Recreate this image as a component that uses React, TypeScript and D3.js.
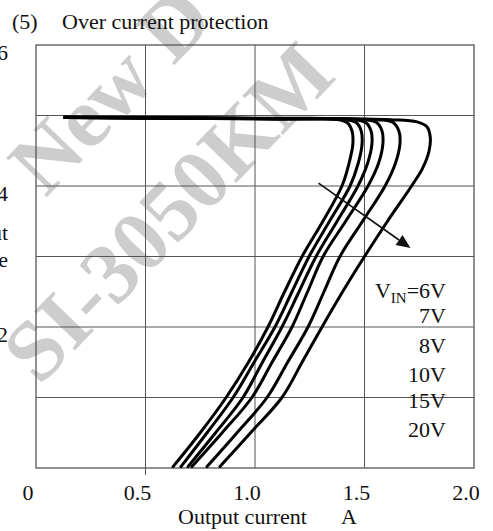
import * as d3 from "d3";
import React from "react";

// axis ticks
const currentTicks = [0, 0.5, 1.0, 1.5, 2.0];
const currentTickLabels = ["0", "0.5", "1.0", "1.5", "2.0"];
const voltageGrid = [1, 2, 3, 4, 5];
const voltageTicks = [2, 4, 6];
const vinLabels = ["6V", "7V", "8V", "10V", "15V", "20V"];

// [output current A, output voltage V]
const vin6: [number, number][] = [
  [0.13, 4.98], [0.6, 4.97], [1.1, 4.96], [1.36, 4.95], [1.42, 4.9], [1.443, 4.78],
  [1.447, 4.6], [1.43, 4.33], [1.397, 4.0], [1.31, 3.5], [1.215, 3.0], [1.135, 2.5],
  [1.059, 2.0], [0.97, 1.5], [0.868, 1.0], [0.75, 0.5], [0.626, 0.02],
];
const vin7: [number, number][] = [
  [0.13, 4.97], [0.6, 4.96], [1.1, 4.955], [1.4, 4.945], [1.462, 4.9], [1.485, 4.78],
  [1.489, 4.6], [1.472, 4.33], [1.434, 4.0], [1.34, 3.5], [1.247, 3.0], [1.169, 2.5],
  [1.091, 2.0], [0.996, 1.5], [0.9, 1.0], [0.781, 0.5], [0.662, 0.02],
];
const vin8: [number, number][] = [
  [0.13, 4.975], [0.6, 4.965], [1.1, 4.955], [1.44, 4.945], [1.505, 4.9], [1.53, 4.78],
  [1.534, 4.6], [1.515, 4.33], [1.47, 4.0], [1.375, 3.5], [1.279, 3.0], [1.201, 2.5],
  [1.123, 2.0], [1.034, 1.5], [0.945, 1.0], [0.82, 0.5], [0.694, 0.02],
];
const vin10: [number, number][] = [
  [0.13, 4.97], [0.6, 4.96], [1.1, 4.95], [1.49, 4.94], [1.555, 4.9], [1.58, 4.78],
  [1.584, 4.6], [1.565, 4.33], [1.516, 4.0], [1.414, 3.5], [1.311, 3.0], [1.24, 2.5],
  [1.169, 2.0], [1.078, 1.5], [0.986, 1.0], [0.85, 0.5], [0.712, 0.02],
];
const vin15: [number, number][] = [
  [0.13, 4.97], [0.6, 4.965], [1.1, 4.955], [1.56, 4.94], [1.63, 4.9], [1.657, 4.78],
  [1.662, 4.6], [1.642, 4.33], [1.594, 4.0], [1.491, 3.5], [1.388, 3.0], [1.315, 2.5],
  [1.242, 2.0], [1.149, 1.5], [1.055, 1.0], [0.918, 0.5], [0.781, 0.02],
];
const vin20: [number, number][] = [
  [0.13, 4.975], [0.6, 4.965], [1.1, 4.955], [1.62, 4.94], [1.74, 4.91], [1.785, 4.84],
  [1.8, 4.7], [1.795, 4.5], [1.765, 4.25], [1.715, 4.0], [1.605, 3.5], [1.5, 3.0],
  [1.4, 2.5], [1.306, 2.0], [1.215, 1.5], [1.123, 1.0], [0.98, 0.5], [0.84, 0.02],
];
const curves = [vin6, vin7, vin8, vin10, vin15, vin20];

// arrow showing increasing VIN
const arrowFrom: [number, number] = [1.29, 4.04];
const arrowTo: [number, number] = [1.71, 3.12];

export default function App() {
  const width = 493;
  const height = 531;
  const serif = "'Liberation Serif', 'Times New Roman', serif";

  const x = d3.scaleLinear([0, 2], [36, 474]);
  const y = d3.scaleLinear([0, 6], [468, 45]);

  const line = d3
    .line<[number, number]>()
    .x((d) => x(d[0]))
    .y((d) => y(d[1]))
    .curve(d3.curveCatmullRom.alpha(0.5));

  // arrow head geometry
  const ax1 = x(arrowFrom[0]);
  const ay1 = y(arrowFrom[1]);
  const ax2 = x(arrowTo[0]);
  const ay2 = y(arrowTo[1]);
  const ang = Math.atan2(ay2 - ay1, ax2 - ax1);
  const headLen = 14;
  const headW = 6;
  const bx = ax2 - headLen * Math.cos(ang);
  const by = ay2 - headLen * Math.sin(ang);
  const head = [
    [ax2, ay2],
    [bx + headW * Math.sin(ang), by - headW * Math.cos(ang)],
    [bx - headW * Math.sin(ang), by + headW * Math.cos(ang)],
  ];

  const legendX = 446;
  const legendY = [298, 323, 353, 382, 408, 437];

  return (
    <svg
      width={width}
      height={height}
      style={{ position: "absolute", left: 0, top: 0, background: "#fff" }}
      fontFamily={serif}
    >
      {/* watermark */}
      <g fill="#cdcdcd" fontWeight="bold" fontSize={86}>
        <text transform="translate(168,212) rotate(-46)" textAnchor="middle" dominantBaseline="central">
          SI-3050KM
        </text>
        <text transform="translate(110,90) rotate(-46)" textAnchor="middle" dominantBaseline="central">
          New D
        </text>
      </g>

      {/* title */}
      <text x={12} y={29} fontSize={22} fill="#111">(5)</text>
      <text x={62} y={29} fontSize={22} fill="#111">Over current protection</text>

      {/* grid */}
      <g stroke="#555" strokeWidth={1}>
        {voltageGrid.map((v) => (
          <line key={v} x1={x(0)} x2={x(2)} y1={y(v)} y2={y(v)} />
        ))}
        {currentTicks.slice(1, -1).map((c) => (
          <line key={c} x1={x(c)} x2={x(c)} y1={y(6)} y2={y(0) + (c === 0.5 ? 7 : 0)} />
        ))}
        <rect x={x(0)} y={y(6)} width={x(2) - x(0)} height={y(0) - y(6)} fill="none" strokeWidth={1.3} />
      </g>

      {/* y tick labels (cut at the left edge) */}
      <g fontSize={22} fill="#111" textAnchor="end">
        {voltageTicks.map((v) => (
          <text key={v} x={8} y={y(v) + 15}>{v}</text>
        ))}
        <text x={8} y={240}>Output</text>
        <text x={8} y={267}>voltage</text>
      </g>

      {/* x tick labels */}
      <g fontSize={22} fill="#111" textAnchor="middle">
        {currentTicks.map((c, i) => (
          <text key={c} x={x(c) - 8} y={500}>{currentTickLabels[i]}</text>
        ))}
      </g>
      <text x={178} y={524} fontSize={22} fill="#111">
        Output current<tspan dx={34}>A</tspan>
      </text>

      {/* curves */}
      <g fill="none" stroke="#000" strokeWidth={3} strokeLinejoin="round" strokeLinecap="round">
        {curves.map((c, i) => (
          <path key={i} d={line(c) ?? ""} />
        ))}
      </g>

      {/* arrow */}
      <line x1={ax1} y1={ay1} x2={bx} y2={by} stroke="#111" strokeWidth={1.6} />
      <polygon points={head.map((p) => p.join(",")).join(" ")} fill="#111" />

      {/* legend */}
      <g fontSize={22} fill="#111" textAnchor="end">
        {vinLabels.map((lab, i) => (
          <text key={lab} x={legendX} y={legendY[i]}>
            {i === 0 ? (
              <>
                V<tspan fontSize={15} dy={5}>IN</tspan>
                <tspan dy={-5}>={lab}</tspan>
              </>
            ) : (
              lab
            )}
          </text>
        ))}
      </g>
    </svg>
  );
}
